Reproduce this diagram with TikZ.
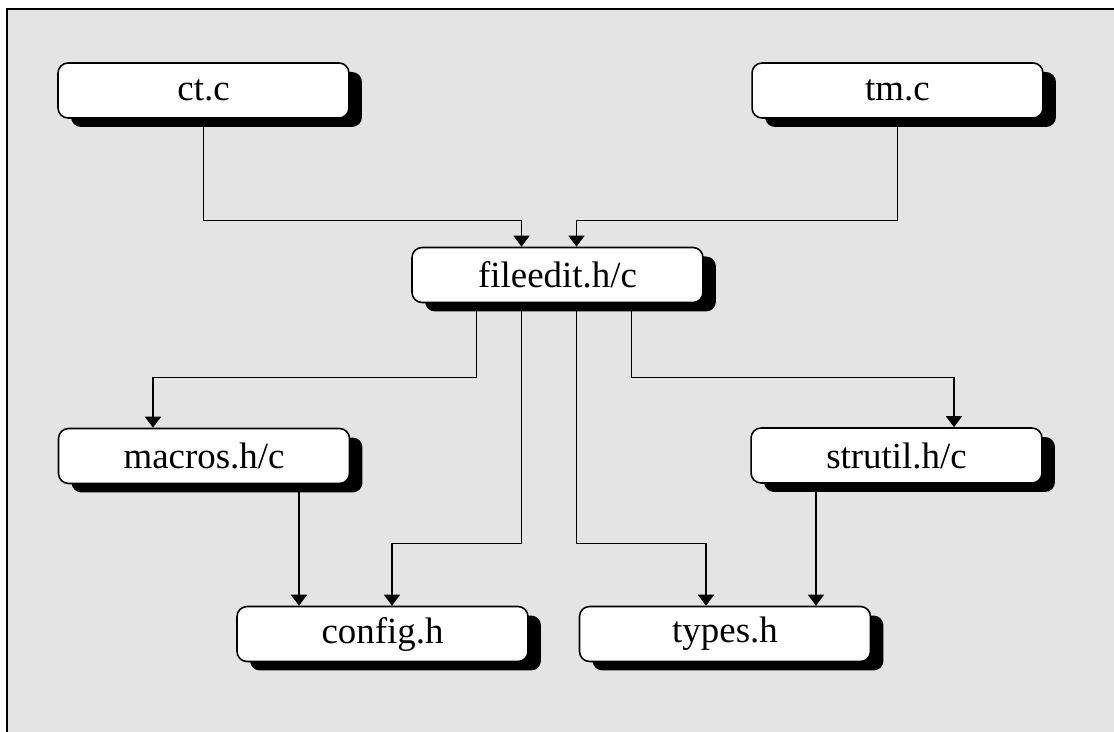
\documentclass[tikz,border=0pt]{standalone}
\usepackage{fontspec}
\setmainfont{Liberation Serif}
\usetikzlibrary{arrows.meta}
\usetikzlibrary{positioning}
\usetikzlibrary{calc}
\usetikzlibrary{shadows}
\definecolor{panel}{RGB}{228,228,228}

\begin{document}
\begin{tikzpicture}[x=0.02cm,y=-0.02cm,>={Triangle[length=0.22cm,width=0.32cm]},
    file node/.style={rectangle,rounded corners=0.2cm,draw,fill=white,line width=0.9pt,
      minimum width=5.82cm,minimum height=1.1cm,inner sep=0pt,font=\fontsize{21}{25}\selectfont,
      drop shadow={shadow xshift=0.26cm,shadow yshift=-0.18cm,fill=black,opacity=1}},
    link/.style={->,line width=0.8pt}]
  \useasboundingbox (0,0) rectangle (1114,732);
  \clip (0,0) rectangle (1114,732);
  \draw[fill=panel,line width=1pt] (7,9) rectangle (1130,750);

  \node[file node] (ct) at (203.5,90.5) {ct.c};
  \node[file node] (tm) at (897.5,90.5) {tm.c};
  \node[file node] (fe) at (557.5,275) {fileedit.h/c};
  \node[file node] (mc) at (204,456) {macros.h/c};
  \node[file node] (su) at (896.5,455.5) {strutil.h/c};
  \node[file node] (cf) at (382.5,634) {config.h};
  \node[file node] (ty) at (725,634) {types.h};

  % where the connectors meet the boxes
  \coordinate (fe in1) at ($(fe.north)+(-36,0)$);
  \coordinate (fe in2) at ($(fe.north)+(19,0)$);
  \coordinate (fe out1) at ($(fe.south)+(-81,0)$);
  \coordinate (fe out2) at ($(fe.south)+(-36,0)$);
  \coordinate (fe out3) at ($(fe.south)+(19,0)$);
  \coordinate (fe out4) at ($(fe.south)+(74,0)$);
  \coordinate (mc in) at ($(mc.north)+(-51,0)$);
  \coordinate (mc out) at ($(mc.south)+(95,0)$);
  \coordinate (su in) at ($(su.north)+(57.5,0)$);
  \coordinate (su out) at ($(su.south)+(-80.5,0)$);
  \coordinate (cf in) at ($(cf.north)+(9.5,0)$);
  \coordinate (ty in) at ($(ty.north)+(-19,0)$);

  \draw[link] (ct.south) -- ++(0,102) -| (fe in1);
  \draw[link] (tm.south) -- ++(0,102) -| (fe in2);
  \draw[link] (fe out1) -- ++(0,74) -| (mc in);
  \draw[link] (fe out4) -- ++(0,74) -| (su in);
  \draw[link] (fe out2) -- ++(0,240) -| (cf in);
  \draw[link] (fe out3) -- ++(0,240) -| (ty in);
  \draw[link] (mc out) -- (mc out |- cf.north);
  \draw[link] (su out) -- (su out |- ty.north);
\end{tikzpicture}
\end{document}
